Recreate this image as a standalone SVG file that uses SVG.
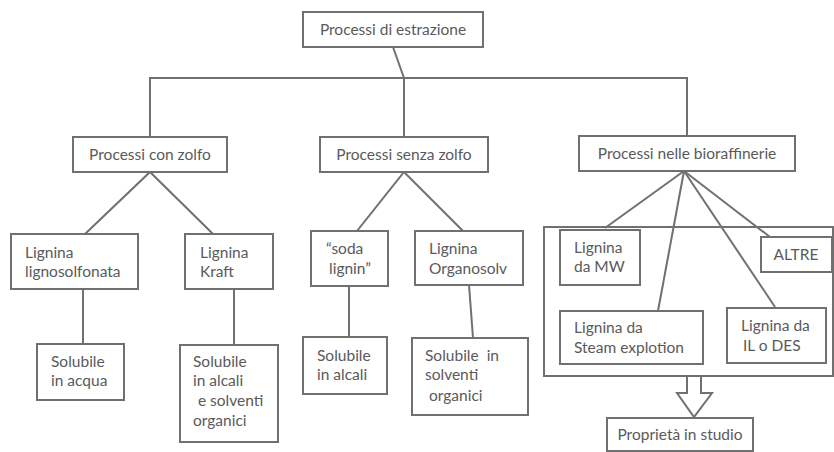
<svg xmlns="http://www.w3.org/2000/svg" width="834" height="452" viewBox="0 0 834 452">
<style>
.b{fill:#fff;stroke:#707070;stroke-width:2}
.c{fill:none;stroke:#707070;stroke-width:2}
text{font-family:Lato,"Open Sans","Liberation Sans",sans-serif;font-size:15.5px;fill:#5a5a5a}
.m{text-anchor:middle}
</style>
<rect width="834" height="452" fill="#fff"/>
<g id="connectors">
<polyline class="c" points="393,47 404,78"/>
<polyline class="c" points="150,137 150,78 687,78 687,137"/>
<line class="c" x1="404" y1="78" x2="404" y2="137"/>
<polyline class="c" points="85,234 150,172 213,234"/>
<polyline class="c" points="357,231 404,172 463,231"/>
<line class="c" x1="684" y1="171" x2="605" y2="228"/>
<line class="c" x1="684" y1="171" x2="658" y2="311"/>
<line class="c" x1="684" y1="171" x2="775" y2="307"/>
<line class="c" x1="684" y1="171" x2="770" y2="237"/>
<line class="c" x1="83" y1="289" x2="83" y2="344"/>
<line class="c" x1="234" y1="289" x2="234" y2="345"/>
<line class="c" x1="349" y1="286" x2="349" y2="337"/>
<line class="c" x1="469" y1="285" x2="473" y2="338"/>
</g>
<g id="container"><rect class="c" x="544" y="227" width="289" height="149"/></g>
<g id="arrow"><polygon class="b" points="687,376 701,376 701,393 712,393 694,417 677,393 687,393"/></g>
<g id="n-root"><rect class="b" x="303" y="12" width="180" height="35"/><text class="m" x="393" y="35">Processi di estrazione</text></g>
<g id="n-con"><rect class="b" x="73" y="137" width="154" height="35"/><text class="m" x="150" y="160">Processi con zolfo</text></g>
<g id="n-senza"><rect class="b" x="320" y="137" width="168" height="35"/><text class="m" x="404" y="160">Processi senza zolfo</text></g>
<g id="n-bio"><rect class="b" x="579" y="136" width="216" height="35"/><text class="m" x="687" y="159">Processi nelle bioraffinerie</text></g>
<g id="n-ligno"><rect class="b" x="11" y="234" width="127" height="55"/><text x="25" y="258">Lignina</text><text x="25" y="277">lignosolfonata</text></g>
<g id="n-kraft"><rect class="b" x="185" y="234" width="88" height="55"/><text x="200" y="258">Lignina</text><text x="200" y="277">Kraft</text></g>
<g id="n-acqua"><rect class="b" x="37" y="344" width="87" height="56"/><text x="51" y="367">Solubile</text><text x="51" y="386">in acqua</text></g>
<g id="n-alcali-solv"><rect class="b" x="180" y="345" width="98" height="97"/><text x="193" y="367">Solubile</text><text x="193" y="386">in alcali</text><text x="194" y="406" xml:space="preserve"> e solventi</text><text x="193" y="426">organici</text></g>
<g id="n-soda"><rect class="b" x="311" y="231" width="77" height="55"/><text x="326" y="254">“soda</text><text x="329" y="274">lignin”</text></g>
<g id="n-organosolv"><rect class="b" x="415" y="231" width="108" height="54"/><text x="429" y="254">Lignina</text><text x="429" y="274">Organosolv</text></g>
<g id="n-alcali"><rect class="b" x="303" y="337" width="84" height="57"/><text x="317" y="361">Solubile</text><text x="317" y="380">in alcali</text></g>
<g id="n-solventi"><rect class="b" x="412" y="338" width="116" height="77"/><text x="425" y="361" xml:space="preserve">Solubile  in</text><text x="425" y="380">solventi</text><text x="429" y="401">organici</text></g>
<g id="n-mw"><rect class="b" x="560" y="230" width="80" height="55"/><text x="574" y="253">Lignina</text><text x="574" y="272">da MW</text></g>
<g id="n-altre"><rect class="b" x="761" y="237" width="71" height="35"/><text class="m" x="796" y="260">ALTRE</text></g>
<g id="n-steam"><rect class="b" x="560" y="311" width="143" height="53"/><text x="574" y="333">Lignina da</text><text x="574" y="353">Steam explotion</text></g>
<g id="n-il"><rect class="b" x="727" y="308" width="99" height="55"/><text x="741" y="331">Lignina da</text><text x="743" y="351">IL o DES</text></g>
<g id="n-prop"><rect class="b" x="607" y="418" width="146" height="33"/><text class="m" x="680" y="440">Proprietà in studio</text></g>
</svg>
